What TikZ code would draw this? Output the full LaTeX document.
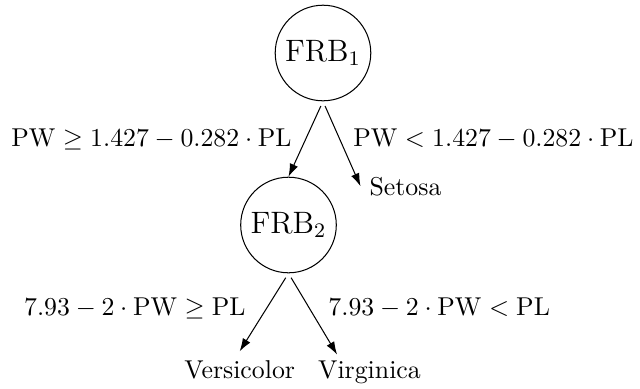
\documentclass[tikz,border=0pt]{standalone}
\usetikzlibrary{arrows.meta,calc}
\begin{document}
\begin{tikzpicture}[x=0.3876pt,y=-0.3876pt,
  frb/.style={draw,circle,minimum size=95.6*0.3876pt,inner sep=0pt,font=\large},
  txt/.style={anchor=base,inner sep=3.33pt},
  arr/.style={-{Latex[length=5pt,width=3.4pt]},shorten <=2pt}]
\useasboundingbox (0,0) rectangle (640,388);
\node[frb] (f1) at (323,53) {FRB$_1$};
\node[frb] (f2) at (288.5,225) {FRB$_2$};
\node[txt] (set) at (405.5,195) {Setosa};
\node[txt] (ver) at (239.7,378.3) {Versicolor};
\node[txt] (vir) at (369.5,378.3) {Virginica};
\node[txt] (l1) at (151.5,146.7) {$\mathrm{PW} \geq 1.427 - 0.282 \cdot \mathrm{PL}$};
\node[txt] (l2) at (493.5,146.7) {$\mathrm{PW} < 1.427 - 0.282 \cdot \mathrm{PL}$};
\node[txt] (l3) at (134.9,315) {$7.93 - 2 \cdot \mathrm{PW} \geq \mathrm{PL}$};
\node[txt] (l4) at (439.2,315) {$7.93 - 2 \cdot \mathrm{PW} < \mathrm{PL}$};
\draw[arr] (f1.south) -- (f2.north);
\draw[arr] (f1.south) -- (set.west);
\draw[arr] (f2.south) -- (ver.north);
\draw[arr] (f2.south) -- ($(vir.north west)+(28,3)$);
\end{tikzpicture}
\end{document}
